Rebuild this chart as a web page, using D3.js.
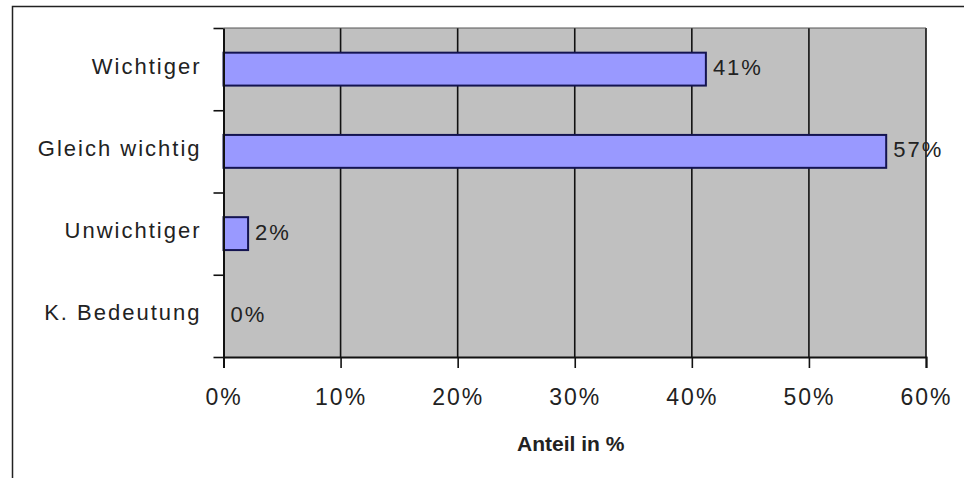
<!DOCTYPE html>
<html>
<head>
<meta charset="utf-8">
<script src="https://cdn.jsdelivr.net/npm/d3@7"></script>
<style>
  body { margin: 0; background: #fff; }
  svg text { font-family: Arial, "Liberation Sans", sans-serif; fill: #222; }
</style>
</head>
<body>
<svg id="chart"></svg>
<script>
// Data
const categories = ["Wichtiger", "Gleich wichtig", "Unwichtiger", "K. Bedeutung"];
const values = [41.2, 56.6, 2.1, 0];
const xTicks = [0, 10, 20, 30, 40, 50, 60];
const xTitle = "Anteil in %";

// Chart dimensions
const width = 964;
const height = 478;
const margin = { top: 28, right: 38, bottom: 121, left: 223.5 };
const plotW = width - margin.left - margin.right;
const plotH = height - margin.top - margin.bottom;

const svg = d3.select("#chart")
  .attr("width", width)
  .attr("height", height);

// Outer frame
svg.append("rect")
  .attr("x", 12.5).attr("y", 6.5)
  .attr("width", 1000).attr("height", 600)
  .attr("fill", "none")
  .attr("stroke", "#222")
  .attr("stroke-width", 1.5);

const g = svg.append("g")
  .attr("transform", `translate(${margin.left},${margin.top})`);

// Scales
const x = d3.scaleLinear().domain([0, 60]).range([0, plotW]);
const y = d3.scaleBand().domain(categories).range([0, plotH])
  .paddingInner(0.6).paddingOuter(0.3);
const yEdge = d3.scaleLinear().domain([0, categories.length]).range([0, plotH]);

// Plot background
g.append("rect")
  .attr("width", plotW)
  .attr("height", plotH)
  .attr("fill", "#c0c0c0");

// Gridlines
g.selectAll(".grid")
  .data(xTicks.filter(d => d > 0))
  .enter()
  .append("line")
  .attr("x1", d => x(d)).attr("x2", d => x(d))
  .attr("y1", 0).attr("y2", plotH)
  .attr("stroke", "#111")
  .attr("stroke-width", 1.6);

// Top border of plot
g.append("line")
  .attr("x1", 0).attr("x2", plotW)
  .attr("y1", 0).attr("y2", 0)
  .attr("stroke", "#555")
  .attr("stroke-width", 1);

// Bars
g.selectAll(".bar")
  .data(values)
  .enter()
  .append("rect")
  .attr("class", "bar")
  .attr("x", 0)
  .attr("y", (d, i) => y(categories[i]))
  .attr("width", d => x(d))
  .attr("height", y.bandwidth())
  .attr("fill", d => d > 0 ? "#9999ff" : "none")
  .attr("stroke", d => d > 0 ? "#141450" : "none")
  .attr("stroke-width", 2);

// Value labels
const pct = d3.format(".0%");
g.selectAll(".val")
  .data(values)
  .enter()
  .append("text")
  .attr("x", d => x(d) + 7)
  .attr("y", (d, i) => y(categories[i]) + y.bandwidth() / 2 - 2)
  .attr("dy", "0.36em")
  .style("font-size", "22px")
  .style("letter-spacing", "2px")
  .text(d => pct(d / 100));

// X axis
const xAxis = g.append("g")
  .attr("transform", `translate(0,${plotH})`)
  .call(d3.axisBottom(x).tickValues(xTicks).tickFormat(d => d + "%").tickSize(11).tickPadding(21));
xAxis.select(".domain").attr("stroke", "#111").attr("stroke-width", 2);
xAxis.selectAll(".tick line").attr("stroke", "#111").attr("stroke-width", 1.6);
xAxis.selectAll("text")
  .style("font-size", "23px")
  .style("letter-spacing", "2px")
  .attr("fill", "#222");

// Y axis boundary ticks
const yAxis = g.append("g")
  .call(d3.axisLeft(yEdge).tickValues(d3.range(categories.length + 1)).tickFormat("").tickSize(10).tickSizeOuter(0));
yAxis.select(".domain").attr("stroke", "#111").attr("stroke-width", 2);
yAxis.selectAll(".tick line").attr("stroke", "#111").attr("stroke-width", 1.6);

// Category labels
const yLabels = g.append("g")
  .call(d3.axisLeft(y).tickSize(0).tickPadding(22));
yLabels.select(".domain").remove();
yLabels.selectAll("text")
  .attr("dy", "0.2em")
  .style("font-size", "22px")
  .style("letter-spacing", "2px")
  .attr("fill", "#222");

// X axis title
svg.append("text")
  .attr("x", margin.left + plotW / 2 - 4)
  .attr("y", 451)
  .attr("text-anchor", "middle")
  .style("font-size", "21px")
  .style("font-weight", "bold")
  .text(xTitle);
</script>
</body>
</html>
